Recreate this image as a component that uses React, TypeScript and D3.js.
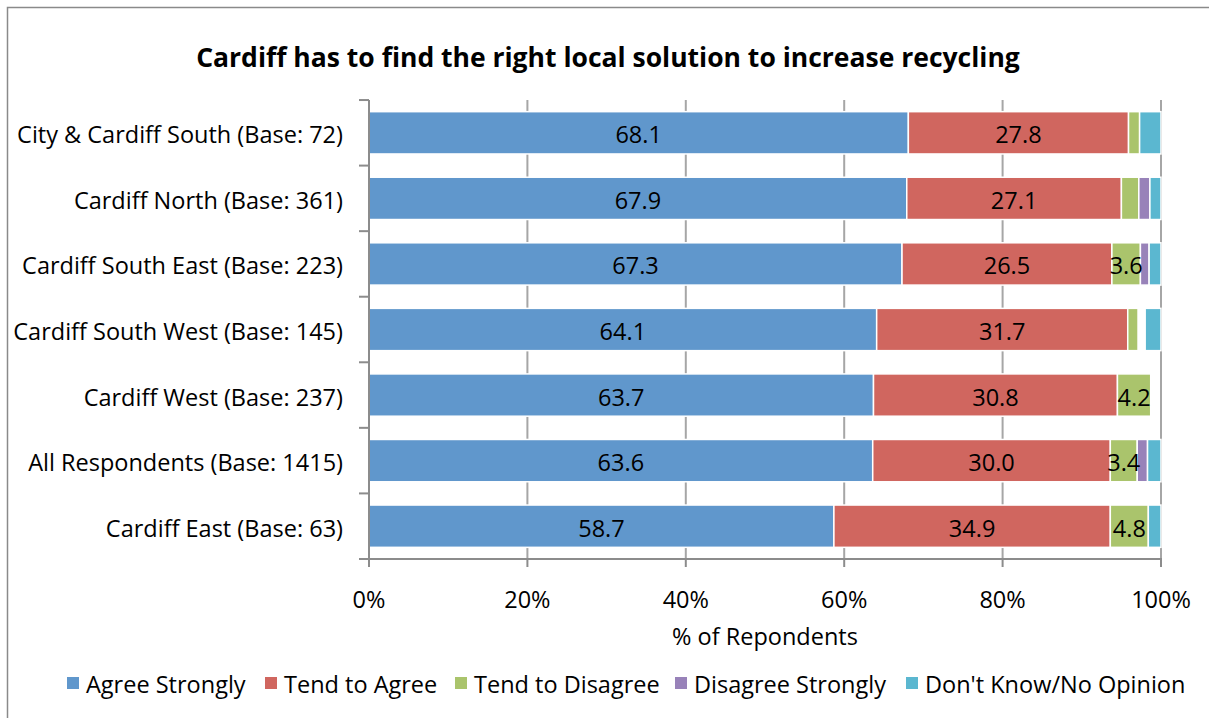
import React from "react";
import * as d3 from "d3";

const title = "Cardiff has to find the right local solution to increase recycling";
const categories = [
  "City & Cardiff South (Base: 72)",
  "Cardiff North (Base: 361)",
  "Cardiff South East (Base: 223)",
  "Cardiff South West (Base: 145)",
  "Cardiff West (Base: 237)",
  "All Respondents (Base: 1415)",
  "Cardiff East (Base: 63)",
];
const seriesNames = ["Agree Strongly", "Tend to Agree", "Tend to Disagree", "Not stated", "Disagree Strongly", "Don't Know/No Opinion"];
const agreeStrongly = [68.1, 67.9, 67.3, 64.1, 63.7, 63.6, 58.7];
const tendToAgree = [27.8, 27.1, 26.5, 31.7, 30.8, 30.0, 34.9];
const tendToDisagree = [1.4, 2.2, 3.6, 1.3, 4.2, 3.4, 4.8];
const notStated = [0, 0, 0, 0.9, 1.3, 0, 0];
const disagreeStrongly = [0, 1.4, 1.1, 0, 0, 1.3, 0];
const dontKnow = [2.7, 1.4, 1.5, 2.0, 0, 1.7, 1.6];
const legendNames = ["Agree Strongly", "Tend to Agree", "Tend to Disagree", "Disagree Strongly", "Don't Know/No Opinion"];
const xTicks = [0, 20, 40, 60, 80, 100];
const xAxisTitle = "% of Repondents";

const colors: Record<string, string> = {
  "Agree Strongly": "#6097CC",
  "Tend to Agree": "#D0665F",
  "Tend to Disagree": "#AAC46C",
  "Not stated": "none",
  "Disagree Strongly": "#9882B9",
  "Don't Know/No Opinion": "#5BB7D0",
};

const FONT = "'Open Sans', sans-serif";
const FS = 23.5;

export default function App() {
  const W = 1209, H = 718;
  const x = d3.scaleLinear().domain([0, 100]).range([369, 1161]);
  const y = d3.scaleBand<string>().domain(categories).range([100, 559]).paddingInner(0.355).paddingOuter(0.178);

  const rows = categories.map((c, i) => ({
    cat: c,
    "Agree Strongly": agreeStrongly[i],
    "Tend to Agree": tendToAgree[i],
    "Tend to Disagree": tendToDisagree[i],
    "Not stated": notStated[i],
    "Disagree Strongly": disagreeStrongly[i],
    "Don't Know/No Opinion": dontKnow[i],
  }));
  const stacked = d3.stack<any>().keys(seriesNames)(rows);

  const legendX = [67, 265, 455, 675, 906];

  return (
    <svg width={W} height={H} style={{ position: "absolute", left: 0, top: 0, background: "#fff" }} fontFamily={FONT}>
      <rect x={0} y={0} width={W} height={H} fill="#fff" />
      <path d={`M7.5,${H + 5} V7.5 H${W + 5}`} fill="none" stroke="#8a8a8a" strokeWidth={1.5} />
      <text x={608} y={67} textAnchor="middle" fontSize={26.5} fontWeight="bold" fill="#000">{title}</text>

      {/* gridlines */}
      {xTicks.map((t) => (
        <line key={"g" + t} x1={x(t)} x2={x(t)} y1={100} y2={559} stroke="#a6a6a6" strokeWidth={2} />
      ))}

      {/* bars */}
      {stacked.map((s) => (
        <g key={s.key}>
          {s.map((d, i) => {
            const v = d[1] - d[0];
            if (v <= 0 || colors[s.key] === "none") return null;
            return (
              <rect key={i} x={x(d[0])} y={y(categories[i])!} width={x(d[1]) - x(d[0])} height={y.bandwidth()}
                fill={colors[s.key]} stroke="#fff" strokeWidth={1.5} />
            );
          })}
        </g>
      ))}
      {/* labels */}
      {stacked.map((s) => (
        <g key={"l" + s.key}>
          {s.map((d, i) => {
            const v = d[1] - d[0];
            if (v < 3 || colors[s.key] === "none") return null;
            return (
              <text key={i} x={(x(d[0]) + x(d[1])) / 2} y={y(categories[i])! + y.bandwidth() / 2 + 10.5}
                textAnchor="middle" fontSize={FS} fill="#000">{v.toFixed(1)}</text>
            );
          })}
        </g>
      ))}

      {/* y axis */}
      <line x1={369} x2={369} y1={100} y2={567} stroke="#8c8c8c" strokeWidth={2} />
      {y.domain().map((c, i) => (
        <line key={"yt" + i} x1={359} x2={369} y1={y(c)! - y.step() * y.paddingInner() / 2} y2={y(c)! - y.step() * y.paddingInner() / 2} stroke="#8c8c8c" strokeWidth={2} />
      ))}
      {categories.map((c) => (
        <text key={"c" + c} x={343} y={y(c)! + y.bandwidth() / 2 + 10.5} textAnchor="end" fontSize={FS} fill="#000">{c}</text>
      ))}

      {/* x axis */}
      <line x1={359} x2={1162} y1={559} y2={559} stroke="#8c8c8c" strokeWidth={2} />
      {xTicks.map((t) => (
        <g key={"xt" + t}>
          <line x1={x(t)} x2={x(t)} y1={559} y2={567} stroke="#8c8c8c" strokeWidth={2} />
          <text x={x(t)} y={608} textAnchor="middle" fontSize={FS} fill="#000">{t + "%"}</text>
        </g>
      ))}
      <text x={765} y={645} textAnchor="middle" fontSize={FS} fill="#000">{xAxisTitle}</text>

      {/* legend */}
      {legendNames.map((n, i) => (
        <g key={"lg" + n}>
          <rect x={legendX[i]} y={677} width={12} height={12} fill={colors[n]} />
          <text x={legendX[i] + 19} y={693} fontSize={FS} fill="#000">{n}</text>
        </g>
      ))}
    </svg>
  );
}
